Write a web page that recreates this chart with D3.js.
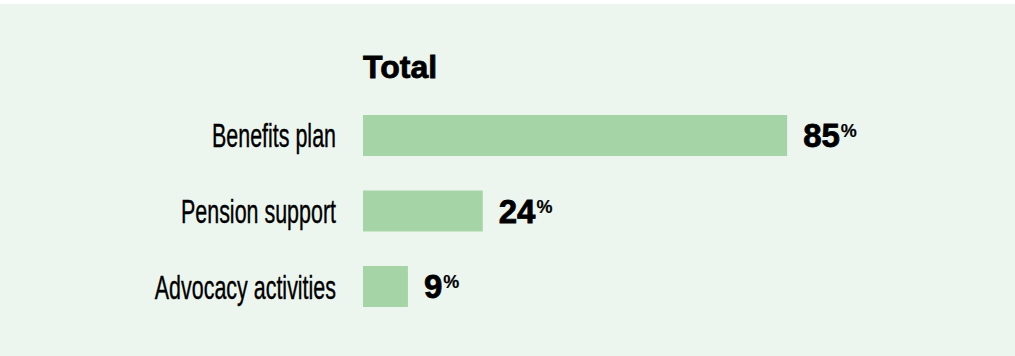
<!DOCTYPE html>
<html lang="en">
<head>
    <meta charset="UTF-8">
    <title>Total</title>
    <script src="https://d3js.org/d3.v7.min.js"></script>
    <style>
        html, body { margin: 0; padding: 0; background: #ffffff; }
    </style>
</head>
<body>
<div id="chart"></div>
<script>
    // data
    var categories = ["Benefits plan", "Pension support", "Advocacy activities"];
    var values = [85, 24, 9];
    var title = "Total";

    var width = 1015, height = 356;
    var margin = {top: 4, left: 363};

    var svg = d3.select("#chart")
        .append("svg")
        .attr("width", width)
        .attr("height", height);

    // background panel
    svg.append("rect")
        .attr("x", 0)
        .attr("y", margin.top)
        .attr("width", width)
        .attr("height", height - margin.top)
        .attr("fill", "#edf6ee");

    var x = d3.scaleLinear()
        .domain([0, 100])
        .range([margin.left, margin.left + 499]);

    var y = d3.scaleBand()
        .domain(categories)
        .range([115, 307])
        .paddingInner(0.457)
        .paddingOuter(0);

    // title
    svg.append("text")
        .attr("x", margin.left)
        .attr("y", 78)
        .style("font-family", "'Liberation Sans', Arial, sans-serif")
        .style("font-weight", "bold")
        .style("font-size", "32px")
        .style("stroke", "#000")
        .style("stroke-width", "0.8px")
        .attr("fill", "#000")
        .text(title);

    var rows = svg.selectAll(".row")
        .data(categories)
        .enter()
        .append("g")
        .attr("class", "row");

    // bars
    rows.append("rect")
        .attr("x", x(0))
        .attr("y", function (d) { return y(d); })
        .attr("width", function (d, i) { return x(values[i]) - x(0); })
        .attr("height", y.bandwidth())
        .attr("fill", "#a5d4a6");

    // category labels, squeezed to get the condensed look
    rows.append("g")
        .attr("transform", function (d) {
            return "translate(336," + (y(d) + y.bandwidth() / 2 + 12) + ") scale(0.65,1)";
        })
        .append("text")
        .attr("text-anchor", "end")
        .style("font-family", "'Liberation Sans', Arial, sans-serif")
        .style("font-size", "33px")
        .style("stroke", "#000")
        .style("stroke-width", "0.4px")
        .attr("fill", "#000")
        .text(function (d) { return d; });

    // value labels
    var vl = rows.append("text")
        .attr("x", function (d, i) { return x(values[i]) + 16; })
        .attr("y", function (d) { return y(d) + y.bandwidth() / 2 + 11.5; })
        .style("font-family", "'Liberation Sans', Arial, sans-serif")
        .style("stroke", "#000")
        .attr("fill", "#000");

    vl.append("tspan")
        .style("font-weight", "bold")
        .style("font-size", "33px")
        .style("stroke-width", "0.8px")
        .text(function (d, i) { return values[i]; });

    vl.append("tspan")
        .attr("dy", -10)
        .attr("dx", 1)
        .style("font-weight", "bold")
        .style("font-size", "18px")
        .style("stroke-width", "0.2px")
        .text("%");
</script>
</body>
</html>
